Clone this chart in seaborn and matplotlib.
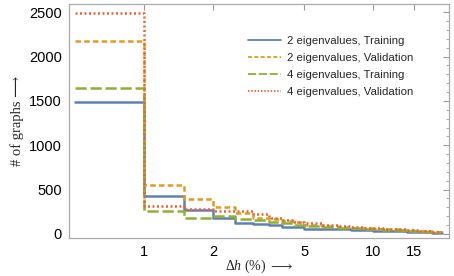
import numpy as np
import pandas as pd
import matplotlib
matplotlib.use("Agg")
import matplotlib.pyplot as plt
import seaborn as sns
from matplotlib.ticker import FixedLocator, NullFormatter, MultipleLocator

# ---- data ----
edges = [0.5, 1, 1.5, 2, 2.5, 3, 3.5, 4, 4.5, 5, 6, 7, 8, 9, 10, 11, 12, 13, 14, 15, 16, 17, 18, 19, 20]
two_train = [1490, 432, 270, 184, 121, 113, 102, 79, 75, 60, 55, 50, 45, 40, 36, 33, 30, 28, 25, 22, 20, 18, 16, 14]
two_valid = [2180, 553, 395, 301, 233, 180, 169, 147, 130, 105, 90, 80, 72, 65, 58, 55, 50, 46, 42, 38, 33, 28, 25, 22]
four_train = [1650, 256, 177, 206, 169, 158, 139, 121, 105, 90, 80, 70, 62, 57, 50, 47, 44, 40, 37, 33, 28, 25, 22, 20]
four_valid = [2490, 319, 282, 263, 263, 222, 184, 158, 140, 121, 100, 90, 80, 72, 66, 60, 55, 50, 45, 40, 35, 30, 26, 22]
series_names = ["2 eigenvalues, Training", "2 eigenvalues, Validation",
                "4 eigenvalues, Training", "4 eigenvalues, Validation"]
xtick_vals = [1, 2, 5, 10, 15]
ytick_vals = [0, 500, 1000, 1500, 2000, 2500]

rows = []
for name, vals in zip(series_names, [two_train, two_valid, four_train, four_valid]):
    vv = list(vals) + [vals[-1]]
    for x, y in zip(edges, vv):
        rows.append({"x": x, "y": y, "series": name})
df = pd.DataFrame(rows)

sns.set_theme(style="white")
plt.rcParams["font.family"] = ["Liberation Sans", "DejaVu Sans"]
plt.rcParams["mathtext.fontset"] = "custom"
plt.rcParams["mathtext.rm"] = "Liberation Serif"
plt.rcParams["mathtext.it"] = "Liberation Serif:italic"
plt.rcParams["mathtext.fallback"] = "stix"

colors = {series_names[0]: "#5E81B5", series_names[1]: "#E19C24",
          series_names[2]: "#8FB032", series_names[3]: "#EB6235"}
dashes = {series_names[0]: "", series_names[1]: (2.2, 1.3),
          series_names[2]: (4.5, 1.5), series_names[3]: (0.8, 1.0)}

fig = plt.figure(figsize=(4.54, 2.76), dpi=100)
ax = fig.add_axes([0.152, 0.138, 0.837, 0.848])

sns.lineplot(data=df, x="x", y="y", hue="series", style="series",
             palette=colors, dashes=dashes, drawstyle="steps-post",
             linewidth=1.8, ax=ax, sort=False, legend=True)

ax.set_xscale("log")
ax.set_xlim(0.47, 21.4)
ax.set_ylim(-45, 2595)

ax.xaxis.set_major_locator(FixedLocator(xtick_vals))
ax.set_xticklabels([str(v) for v in xtick_vals])
ax.xaxis.set_minor_locator(FixedLocator([]))
ax.xaxis.set_minor_formatter(NullFormatter())
ax.yaxis.set_major_locator(FixedLocator(ytick_vals))
ax.set_yticklabels([str(v) for v in ytick_vals])
ax.yaxis.set_minor_locator(MultipleLocator(100))

ax.tick_params(axis="both", which="major", direction="in", length=4, width=0.8,
               color="#999999", labelsize=10.5, labelcolor="black",
               top=True, right=True, pad=5)
ax.tick_params(axis="both", which="minor", direction="in", length=2, width=0.6,
               color="#999999", top=True, right=True)

for s in ax.spines.values():
    s.set_color("#AAAAAA")
    s.set_linewidth(0.9)

ax.set_xlabel(r"$\mathrm{\Delta}\mathit{h}\ \mathrm{(\%)}\ \longrightarrow$", fontsize=10, labelpad=-1)
ax.set_ylabel("# of graphs ⟶", fontsize=10.5, family=["Liberation Serif", "DejaVu Serif"], labelpad=4)

leg = ax.legend(loc="upper left", bbox_to_anchor=(0.455, 0.885), frameon=False,
                fontsize=8.2, handlelength=2.9, handletextpad=0.6, labelspacing=0.6,
                borderpad=0)
for line in leg.get_lines():
    line.set_linewidth(1.3)

fig.savefig("out.png", dpi=100)
